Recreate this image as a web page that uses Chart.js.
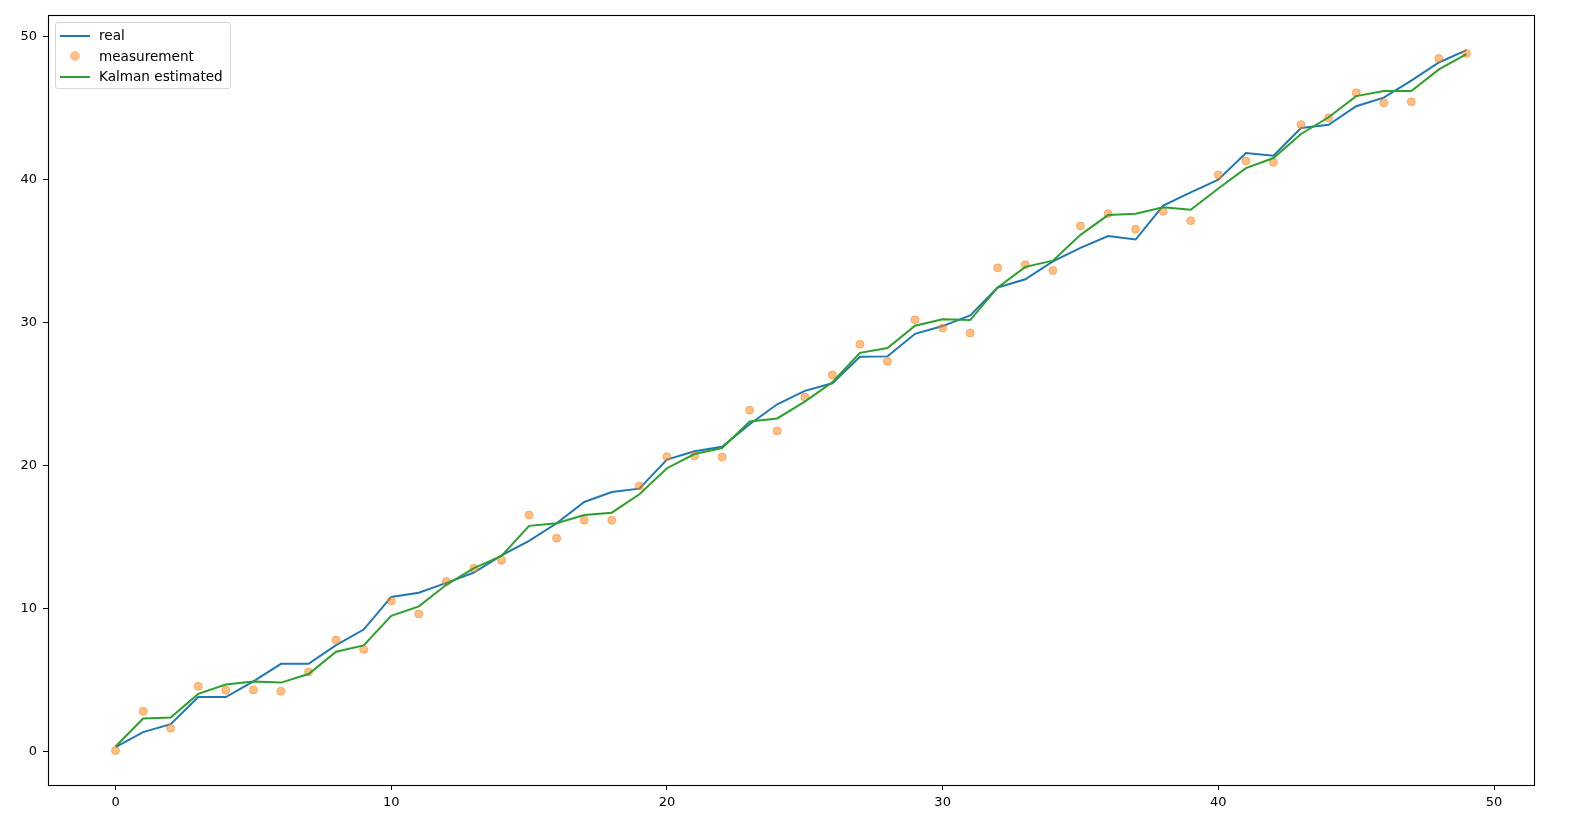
<!DOCTYPE html>
<html>
<head>
<meta charset="utf-8">
<script src="https://cdn.jsdelivr.net/npm/chart.js@4/dist/chart.umd.min.js"></script>
<style>
  html, body { margin: 0; padding: 0; background: #ffffff; }
  #wrap { position: relative; width: 1577px; height: 824px; }
  #legend {
    position: absolute; left: 55px; top: 22px; width: 176px; height: 67px;
    box-sizing: border-box; border: 1px solid #d6d6d6; border-radius: 3px;
    background: rgba(255,255,255,0.8);
    font-family: "DejaVu Sans", sans-serif; font-size: 13.6px; color: #000;
  }
  .row { position: absolute; left: 0; height: 20px; width: 100%; }
  .row .txt { position: absolute; left: 43px; top: 0px; line-height: 18px; }
  .row .line { position: absolute; left: 4px; width: 30px; height: 2px; top: 9px; }
  .row .dot { position: absolute; left: 15px; top: 5px; width: 8px; height: 8px; border-radius: 50%; }
</style>
</head>
<body>
<div id="wrap">
  <canvas id="c" width="1577" height="824"></canvas>
  <div id="legend"></div>
</div>
<script>
const steps = [0,1,2,3,4,5,6,7,8,9,10,11,12,13,14,15,16,17,18,19,20,21,22,23,24,25,26,27,28,29,30,31,32,33,34,35,36,37,38,39,40,41,42,43,44,45,46,47,48,49];

const realValues = [0.30,1.36,1.91,3.81,3.81,4.90,6.13,6.13,7.44,8.53,
  10.81,11.10,11.79,12.52,13.71,14.73,15.96,17.45,18.15,18.38,
  20.41,20.99,21.31,22.89,24.28,25.22,25.75,27.60,27.63,29.21,
  29.75,30.50,32.45,33.02,34.27,35.22,36.04,35.80,38.17,39.10,
  39.98,41.85,41.66,43.60,43.82,45.12,45.72,46.91,48.18,49.04];

const measuredValues = [0.07,2.81,1.63,4.56,4.28,4.31,4.22,5.56,7.79,7.14,
  10.53,9.62,11.89,12.82,13.38,16.54,14.92,16.17,16.17,18.56,
  20.62,20.66,20.59,23.87,22.42,24.79,26.33,28.47,27.28,30.19,
  29.61,29.27,33.82,34.03,33.64,36.74,37.61,36.52,37.78,37.12,
  40.32,41.30,41.20,43.83,44.31,46.06,45.36,45.43,48.46,48.81];

const kalmanValues = [0.35,2.31,2.38,4.03,4.68,4.89,4.82,5.42,6.98,7.42,
  9.49,10.15,11.66,12.82,13.68,15.78,15.96,16.54,16.70,17.99,
  19.81,20.80,21.22,23.08,23.29,24.47,25.82,27.88,28.22,29.77,
  30.22,30.17,32.45,33.89,34.32,36.13,37.51,37.60,38.06,37.88,
  39.37,40.79,41.50,43.18,44.35,45.83,46.18,46.18,47.70,48.76];

const xTickValues = [0,10,20,30,40,50];
const yTickValues = [0,10,20,30,40,50];

const seriesLabels = ['real', 'measurement', 'Kalman estimated'];
const seriesColors = ['#1f77b4', 'rgba(255,127,14,0.5)', '#2ca02c'];

const toPoints = vals => steps.map((s, i) => ({ x: s, y: vals[i] }));

const datasets = [
  { type: 'line', label: seriesLabels[0], data: toPoints(realValues),
    borderColor: seriesColors[0], borderWidth: 2, pointRadius: 0, tension: 0, fill: false, order: 3 },
  { type: 'scatter', label: seriesLabels[1], data: toPoints(measuredValues),
    backgroundColor: seriesColors[1], borderColor: seriesColors[1], borderWidth: 1,
    pointRadius: 4, showLine: false, order: 2 },
  { type: 'line', label: seriesLabels[2], data: toPoints(kalmanValues),
    borderColor: seriesColors[2], borderWidth: 2, pointRadius: 0, tension: 0, fill: false, order: 1 }
];

const tickFont = { family: 'DejaVu Sans', size: 13 };

const framePlugin = {
  id: 'frame',
  afterDraw(chart) {
    const a = chart.chartArea, ctx = chart.ctx;
    ctx.save();
    ctx.strokeStyle = '#000';
    ctx.lineWidth = 1.1;
    ctx.strokeRect(a.left + 0.5, a.top + 0.5, a.right - a.left, a.bottom - a.top);
    ctx.restore();
  }
};

new Chart(document.getElementById('c'), {
  type: 'line',
  data: { datasets },
  options: {
    responsive: false,
    animation: false,
    devicePixelRatio: 1,
    layout: { padding: { left: 0, top: 15, right: 43, bottom: 0 } },
    plugins: { legend: { display: false }, tooltip: { enabled: false } },
    scales: {
      x: {
        type: 'linear', min: -2.45, max: 51.45,
        border: { display: false },
        grid: { drawOnChartArea: false, tickLength: 5, tickColor: '#000', tickWidth: 1 },
        ticks: { color: '#000', font: tickFont, padding: 5, maxRotation: 0, callback: v => String(v) },
        afterBuildTicks: s => { s.ticks = xTickValues.map(v => ({ value: v })); },
        afterFit: s => { s.height = 39; }
      },
      y: {
        type: 'linear', min: -2.34, max: 51.5,
        border: { display: false },
        grid: { drawOnChartArea: false, tickLength: 5, tickColor: '#000', tickWidth: 1 },
        ticks: { color: '#000', font: tickFont, padding: 6, callback: v => String(v) },
        afterBuildTicks: s => { s.ticks = yTickValues.map(v => ({ value: v })); },
        afterFit: s => { s.width = 48; }
      }
    }
  },
  plugins: [framePlugin]
});

// legend built from the series definitions
const legend = document.getElementById('legend');
seriesLabels.forEach((lab, i) => {
  const row = document.createElement('div');
  row.className = 'row';
  row.style.top = (3 + i * 20.5) + 'px';
  const mark = document.createElement('div');
  if (i === 1) { mark.className = 'dot'; mark.style.background = seriesColors[i]; mark.style.boxShadow = '0 0 0 1px ' + seriesColors[i]; }
  else { mark.className = 'line'; mark.style.background = seriesColors[i]; }
  const txt = document.createElement('div');
  txt.className = 'txt';
  txt.textContent = lab;
  row.appendChild(mark);
  row.appendChild(txt);
  legend.appendChild(row);
});
</script>
</body>
</html>
